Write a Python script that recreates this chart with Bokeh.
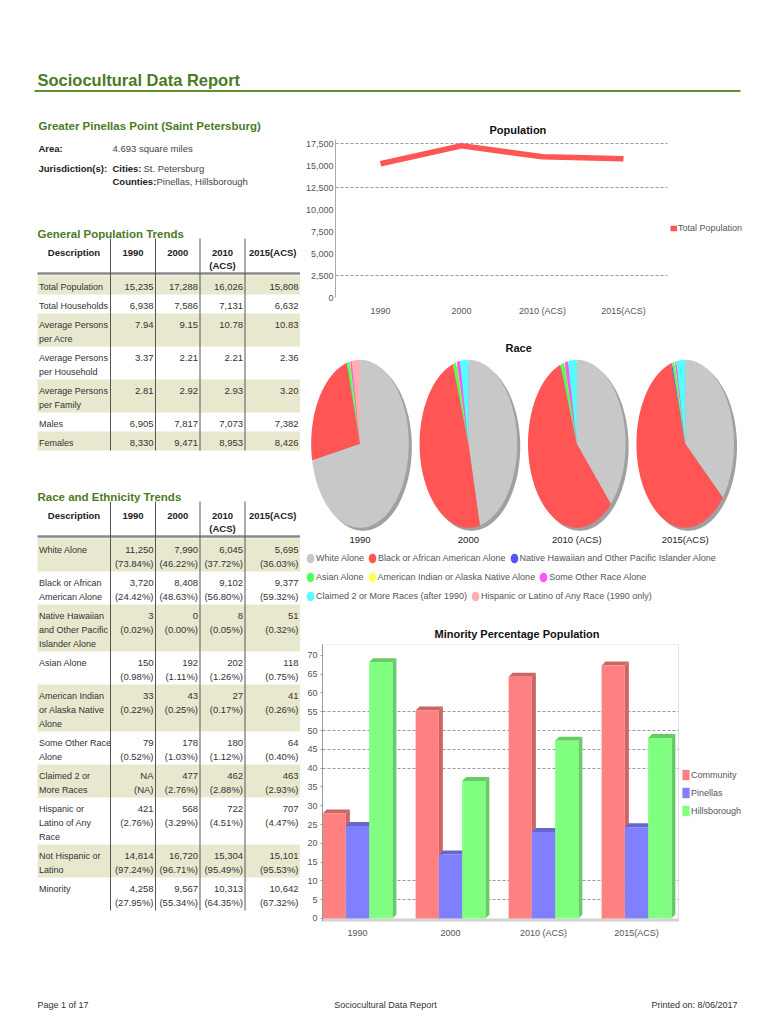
import math
from bokeh.plotting import figure
from bokeh.models import (Range1d, ColumnDataSource, Legend, LegendItem,
                          FixedTicker, NumeralTickFormatter, BoxAnnotation)
from bokeh.layouts import column, row
from bokeh.core.properties import value
from bokeh.embed import file_html
from bokeh.resources import INLINE

# ------------------------------------------------------------------ data
report_title = "Sociocultural Data Report"
community_name = "Greater Pinellas Point (Saint Petersburg)"
area_text = "4.693 square miles"
cities_text = "St. Petersburg"
counties_text = "Pinellas, Hillsborough"
page_text = "Page 1 of 17"
printed_text = "Printed on: 8/06/2017"

years = ["1990", "2000", "2010 (ACS)", "2015(ACS)"]
table_headers = ["Description", "1990", "2000", "2010\n(ACS)", "2015(ACS)"]

total_population = [15235, 17288, 16026, 15808]
total_households = [6938, 7586, 7131, 6632]
persons_per_acre = [7.94, 9.15, 10.78, 10.83]
persons_per_household = [3.37, 2.21, 2.21, 2.36]
persons_per_family = [2.81, 2.92, 2.93, 3.20]
males = [6905, 7817, 7073, 7382]
females = [8330, 9471, 8953, 8426]

general_desc = ["Total Population", "Total Households", "Average Persons\nper Acre",
                "Average Persons\nper Household", "Average Persons\nper Family",
                "Males", "Females"]

white_alone = [11250, 7990, 6045, 5695]
white_pct = [73.84, 46.22, 37.72, 36.03]
black_alone = [3720, 8408, 9102, 9377]
black_pct = [24.42, 48.63, 56.80, 59.32]
hawaiian_alone = [3, 0, 8, 51]
hawaiian_pct = [0.02, 0.00, 0.05, 0.32]
asian_alone = [150, 192, 202, 118]
asian_pct = [0.98, 1.11, 1.26, 0.75]
indian_alone = [33, 43, 27, 41]
indian_pct = [0.22, 0.25, 0.17, 0.26]
other_alone = [79, 178, 180, 64]
other_pct = [0.52, 1.03, 1.12, 0.40]
two_or_more = [None, 477, 462, 463]
two_or_more_pct = [None, 2.76, 2.88, 2.93]
hispanic = [421, 568, 722, 707]
hispanic_pct = [2.76, 3.29, 4.51, 4.47]
not_hispanic = [14814, 16720, 15304, 15101]
not_hispanic_pct = [97.24, 96.71, 95.49, 95.53]
minority = [4258, 9567, 10313, 10642]
minority_pct = [27.95, 55.34, 64.35, 67.32]

race_desc = ["White Alone", "Black or African\nAmerican Alone",
             "Native Hawaiian\nand Other Pacific\nIslander Alone", "Asian Alone",
             "American Indian\nor Alaska Native\nAlone", "Some Other Race\nAlone",
             "Claimed 2 or\nMore Races", "Hispanic or\nLatino of Any\nRace",
             "Not Hispanic or\nLatino", "Minority"]

pie_labels = ["White Alone", "Black or African American Alone",
              "Native Hawaiian and Other Pacific Islander Alone", "Asian Alone",
              "American Indian or Alaska Native Alone", "Some Other Race Alone",
              "Claimed 2 or More Races (after 1990)",
              "Hispanic or Latino of Any Race (1990 only)"]
pie_colors = ["#c8c8c8", "#ff5555", "#5555ff", "#55ff55", "#ffff55", "#ff55ff",
              "#55ffff", "#ffafaf"]

pop_ticks = [0, 2500, 5000, 7500, 10000, 12500, 15000, 17500]
pop_grid_ticks = [2500, 12500, 17500]

minority_series = ["Community", "Pinellas", "Hillsborough"]
community_minority_pct = minority_pct
pinellas_minority_pct = [24.6, 17.0, 23.0, 24.3]
hillsborough_minority_pct = [68.2, 36.6, 47.3, 48.0]
minority_ticks = [0, 5, 10, 15, 20, 25, 30, 35, 40, 45, 50, 55, 60, 65, 70]
minority_grid_ticks = [5, 10, 40, 45, 50, 55]

# ------------------------------------------------------------------ styles
SANS = "Liberation Sans"
GREEN = "#4b7b1f"
BAND = "#e8e8cf"
TXT = "#333333"
GREY_TXT = "#555555"


def add_text(p, xs, ys, texts, size="9.5px", color=TXT, bold=False, align="left",
             baseline="middle", font=SANS):
    src = ColumnDataSource(dict(x=list(xs), y=list(ys), t=list(texts)))
    p.text(x="x", y="y", text="t", source=src, text_font=value(font),
           text_font_size=size, text_color=color,
           text_font_style="bold" if bold else "normal",
           text_align=align, text_baseline=baseline)


def canvas(w, h, x0, x1, y_top, y_bot):
    p = figure(width=w, height=h, x_range=Range1d(x0, x1), y_range=Range1d(y_bot, y_top),
               output_backend="svg", toolbar_location=None, x_axis_type=None,
               y_axis_type=None, min_border=0, frame_align=False)
    p.outline_line_color = None
    p.background_fill_color = "white"
    p.border_fill_color = "white"
    return p


def fmt_int(vals):
    return [[f"{v:,}"] for v in vals]


def fmt_dec(vals):
    return [[f"{v:.2f}"] for v in vals]


def fmt_pair(counts, pcts):
    out = []
    for c, q in zip(counts, pcts):
        if c is None:
            out.append(["NA", "(NA)"])
        else:
            out.append([f"{c:,}", f"({q:.2f}%)"])
    return out


COL_EDGES = [37, 110, 155, 199.5, 244.5, 300]
LINE_H = 14


def draw_table(p, heading, heading_y, descs, cells):
    header_y = heading_y + 18.5
    sep_y = header_y + 21
    top = sep_y + 2
    tops, bottoms = [], []
    dx_, dy_, dt = [], [], []
    vx, vy, vt = [], [], []
    for i, (d, row_cells) in enumerate(zip(descs, cells)):
        dl = d.split("\n")
        n = max(len(dl), max(len(c) for c in row_cells))
        h = LINE_H * n + 5
        if i % 2 == 0:
            tops.append(top)
            bottoms.append(top + h)
        for k, line in enumerate(dl):
            dx_.append(38.5)
            dy_.append(top + 11 + k * LINE_H)
            dt.append(line)
        for j, c in enumerate(row_cells):
            for k, line in enumerate(c):
                vx.append(COL_EDGES[j + 2] - 2)
                vy.append(top + 11 + k * LINE_H)
                vt.append(line)
        top += h
    p.quad(left=COL_EDGES[0], right=COL_EDGES[-1], top=tops, bottom=bottoms,
           fill_color=BAND, line_color=None)
    p.segment(x0=[COL_EDGES[0]], x1=[COL_EDGES[-1]], y0=[sep_y], y1=[sep_y],
              line_color="#8a8a8a", line_width=2.5)
    p.segment(x0=COL_EDGES[1:5], x1=COL_EDGES[1:5], y0=[header_y - 14] * 4,
              y1=[top] * 4, line_color="#555555", line_width=1)
    add_text(p, [37], [heading_y], [heading], size="11.5px", color=GREEN, bold=True)
    hx, hy, ht = [], [], []
    for j, h in enumerate(table_headers):
        cx = (COL_EDGES[j] + COL_EDGES[j + 1]) / 2
        for k, line in enumerate(h.split("\n")):
            hx.append(cx)
            hy.append(header_y + k * 13)
            ht.append(line)
    add_text(p, hx, hy, ht, bold=True, color="#222222", align="center")
    add_text(p, dx_, dy_, dt, size="9px")
    add_text(p, vx, vy, vt, align="right")


# ------------------------------------------------------------------ header
header = canvas(762, 112, 0, 762, 0, 112)
add_text(header, [37], [79.5], [report_title], size="16.5px", color=GREEN, bold=True)
header.segment(x0=[34], x1=[740], y0=[90.5], y1=[90.5], line_color="#5f8f2f",
               line_width=2)

# ------------------------------------------------------------------ left column
left = canvas(300, 833, 0, 300, 112, 945)
add_text(left, [38], [125.5], [community_name], size="11.5px", color=GREEN, bold=True)
add_text(left, [38, 38, 112, 112], [148, 167.5, 167.5, 181],
         ["Area:", "Jurisdiction(s):", "Cities:", "Counties:"], color="#222222", bold=True)
add_text(left, [112, 143, 156], [148, 167.5, 181],
         [area_text, cities_text, counties_text], color="#444444")

general_cells = [fmt_int(total_population), fmt_int(total_households),
                 fmt_dec(persons_per_acre), fmt_dec(persons_per_household),
                 fmt_dec(persons_per_family), fmt_int(males), fmt_int(females)]
draw_table(left, "General Population Trends", 233.5, general_desc, general_cells)

race_cells = [fmt_pair(white_alone, white_pct), fmt_pair(black_alone, black_pct),
              fmt_pair(hawaiian_alone, hawaiian_pct), fmt_pair(asian_alone, asian_pct),
              fmt_pair(indian_alone, indian_pct), fmt_pair(other_alone, other_pct),
              fmt_pair(two_or_more, two_or_more_pct), fmt_pair(hispanic, hispanic_pct),
              fmt_pair(not_hispanic, not_hispanic_pct), fmt_pair(minority, minority_pct)]
draw_table(left, "Race and Ethnicity Trends", 496.5, race_desc, race_cells)


def style_title(p, offset, standoff):
    p.title.align = "left"
    p.title.offset = offset
    p.title.standoff = standoff
    p.title.text_font = SANS
    p.title.text_font_size = "11px"
    p.title.text_font_style = "bold"
    p.title.text_color = "#111111"


# ------------------------------------------------------------------ population line chart
# frame: page x 335..762, y 139..297 ; category i centred at page x 380 + 81*i
px_per_cat = 81.0
pop_x0 = (335 - 380) / px_per_cat
pop_x1 = pop_x0 + (762 - 335) / px_per_cat
pop_xcut = (667 - 380) / px_per_cat
pop = figure(width=462, height=214, title="Population",
             x_range=Range1d(pop_x0, pop_x1), y_range=Range1d(0, 18000),
             output_backend="svg", toolbar_location=None, frame_align=False,
             min_border_left=35, min_border_right=0, min_border_top=27,
             min_border_bottom=29)
pop.outline_line_color = None
style_title(pop, 154, 8)
pop.yaxis.ticker = FixedTicker(ticks=pop_ticks)
pop.yaxis.formatter = NumeralTickFormatter(format="0,0")
pop.yaxis.major_tick_line_color = None
pop.yaxis.major_tick_out = 0
pop.yaxis.major_tick_in = 0
pop.yaxis.minor_tick_line_color = None
pop.yaxis.axis_line_color = "#aaaaaa"
pop.yaxis.major_label_standoff = 2
pop.xaxis.ticker = FixedTicker(ticks=list(range(len(years))))
pop.xaxis.major_label_overrides = {i: y for i, y in enumerate(years)}
pop.xaxis.axis_line_color = None
pop.xaxis.major_tick_line_color = None
pop.xaxis.major_tick_out = 0
pop.xaxis.major_tick_in = 0
pop.xaxis.minor_tick_line_color = None
pop.xaxis.major_label_standoff = 8
for ax in (pop.xaxis, pop.yaxis):
    ax.major_label_text_font = SANS
    ax.major_label_text_font_size = "9px"
    ax.major_label_text_color = GREY_TXT
pop.xgrid.visible = False
pop.ygrid.ticker = FixedTicker(ticks=pop_grid_ticks)
pop.ygrid.grid_line_color = "#999999"
pop.ygrid.grid_line_dash = "3 2"
pop.add_layout(BoxAnnotation(left=pop_xcut, fill_color="white", fill_alpha=1,
                             line_color=None, level="underlay"))
pop_line = pop.line(x=list(range(len(years))), y=total_population, line_color="#ff5555",
                    line_width=5.5)
pop_leg = Legend(items=[LegendItem(label="Total Population", renderers=[pop_line])],
                 location=(335, 63), padding=0, margin=0, border_line_color=None,
                 background_fill_alpha=0, glyph_width=7, glyph_height=12,
                 label_height=12, label_standoff=1, label_text_font=SANS,
                 label_text_font_size="9px", label_text_color=GREY_TXT)
pop.add_layout(pop_leg)

# ------------------------------------------------------------------ race pies
race = figure(width=462, height=290, title="Race", x_range=Range1d(300, 762),
              y_range=Range1d(616, 356), output_backend="svg", toolbar_location=None,
              x_axis_type=None, y_axis_type=None, min_border_left=0, min_border_right=0,
              min_border_top=30, min_border_bottom=0, frame_align=False)
race.outline_line_color = None
style_title(race, 205, 6)

pie_cx = [359.5 + 108.4 * i for i in range(len(years))]
pie_cy = 443.3
pie_rx, pie_ry = 48.8, 84.0


def ell_pt(cx, a, dx=0.0, dy=0.0):
    return cx + dx + pie_rx * math.sin(a), pie_cy + dy - pie_ry * math.cos(a)


# legend markers (tall ellipses), hidden under the pies
legend_refs = [race.ellipse(x=[pie_cx[0]], y=[pie_cy], width=0.8, height=1.0,
                            fill_color=col, line_color=None) for col in pie_colors]

sh_xs, sh_ys = [], []
for cx in pie_cx:
    pts = [ell_pt(cx, 2 * math.pi * s / 180, 3, 3) for s in range(181)]
    sh_xs.append([q[0] for q in pts])
    sh_ys.append([q[1] for q in pts])
race.patches(sh_xs, sh_ys, fill_color="#a0a0a0", line_color=None)

pie_series = [white_alone, black_alone, hawaiian_alone, asian_alone, indian_alone,
              other_alone, [v or 0 for v in two_or_more],
              [v if i == 0 else 0 for i, v in enumerate(hispanic)]]
slice_xs = [[] for _ in pie_series]
slice_ys = [[] for _ in pie_series]
for i, cx in enumerate(pie_cx):
    vals = [s[i] for s in pie_series]
    tot = float(sum(vals))
    a = 0.0
    for k, v in enumerate(vals):
        a0, a1 = a, a + 2 * math.pi * v / tot
        a = a1
        if v <= 0:
            continue
        n = max(2, int(math.degrees(a1 - a0)) + 2)
        pts = [(cx, pie_cy)] + [ell_pt(cx, a0 + (a1 - a0) * s / (n - 1)) for s in range(n)]
        slice_xs[k].append([q[0] for q in pts])
        slice_ys[k].append([q[1] for q in pts])
for k, col in enumerate(pie_colors):
    if slice_xs[k]:
        race.patches(slice_xs[k], slice_ys[k], fill_color=col, line_color=None)
add_text(race, pie_cx, [539.3] * len(pie_cx), years, align="center", color="#222222")

legend_rows = [[0, 1, 2], [3, 4, 5], [6, 7]]
legend_row_bottoms = [51, 32, 13]
for idxs, yb in zip(legend_rows, legend_row_bottoms):
    leg = Legend(items=[LegendItem(label=pie_labels[k], renderers=[legend_refs[k]])
                        for k in idxs],
                 orientation="horizontal", location=(4, yb), padding=0, margin=0,
                 border_line_color=None, background_fill_alpha=0, glyph_width=12,
                 glyph_height=14, label_height=14, label_standoff=0, spacing=2,
                 label_text_font=SANS, label_text_font_size="9px",
                 label_text_color=GREY_TXT)
    race.add_layout(leg)

# ------------------------------------------------------------------ minority bars
# frame: page x 322..762, y 644..921 ; group i centred at page x 357 + 93*i
px_per_grp = 93.0
mx0 = (322 - 357) / px_per_grp
mx1 = mx0 + (762 - 322) / px_per_grp
mxcut = (678 - 357) / px_per_grp
my0, my1 = -0.8, 72.9
mino = figure(width=462, height=329, title="Minority Percentage Population",
              x_range=Range1d(mx0, mx1), y_range=Range1d(my0, my1),
              output_backend="svg", toolbar_location=None, min_border_left=22,
              min_border_right=0, min_border_top=28, min_border_bottom=24,
              frame_align=False)
mino.outline_line_color = None
style_title(mino, 112, 9)
mino.yaxis.ticker = FixedTicker(ticks=minority_ticks)
mino.yaxis.major_tick_in = 0
mino.yaxis.major_tick_out = 2
mino.yaxis.major_tick_line_color = "#999999"
mino.yaxis.minor_tick_line_color = None
mino.yaxis.axis_line_color = "#999999"
mino.yaxis.major_label_standoff = 3
mino.xaxis.ticker = FixedTicker(ticks=list(range(len(years))))
mino.xaxis.major_label_overrides = {i: y for i, y in enumerate(years)}
mino.xaxis.axis_line_color = None
mino.xaxis.major_tick_line_color = None
mino.xaxis.major_tick_out = 0
mino.xaxis.major_tick_in = 0
mino.xaxis.minor_tick_line_color = None
mino.xaxis.major_label_standoff = 6
for ax in (mino.xaxis, mino.yaxis):
    ax.major_label_text_font = SANS
    ax.major_label_text_font_size = "9px"
    ax.major_label_text_color = GREY_TXT
mino.xgrid.visible = False
mino.ygrid.ticker = FixedTicker(ticks=minority_grid_ticks)
mino.ygrid.grid_line_color = "#999999"
mino.ygrid.grid_line_dash = "3 2"
mino.add_layout(BoxAnnotation(left=mxcut, fill_color="white", fill_alpha=1,
                              line_color=None, level="underlay"))
mino.add_layout(BoxAnnotation(top=0, right=mxcut, fill_color="#d4d4d4", fill_alpha=1,
                              line_color=None, level="underlay"))
mino.add_layout(BoxAnnotation(right=mxcut, fill_alpha=0, line_color="#999999",
                              line_width=1))

frame_w = 762 - 322
frame_h = 329 - 28 - 24
dxu = 4 * (mx1 - mx0) / frame_w
dyu = 4 * (my1 - my0) / frame_h
bar_w = 0.25
series_vals = [community_minority_pct, pinellas_minority_pct, hillsborough_minority_pct]
front_cols = ["#ff8080", "#8080ff", "#80ff80"]
side_cols = ["#cc6666", "#6666cc", "#66cc66"]
bar_items = []
for k, (name, vals) in enumerate(zip(minority_series, series_vals)):
    xc = [i + (k - 1) * bar_w for i in range(len(years))]
    pxs, pys = [], []
    for x, v in zip(xc, vals):
        xl, xr = x - bar_w / 2, x + bar_w / 2
        pxs.append([xr, xr + dxu, xr + dxu, xr])
        pys.append([0, dyu, v + dyu, v])
        pxs.append([xl, xl + dxu, xr + dxu, xr])
        pys.append([v, v + dyu, v + dyu, v])
    mino.patches(pxs, pys, fill_color=side_cols[k], line_color=None)
    r = mino.vbar(x=xc, top=vals, bottom=0, width=bar_w, fill_color=front_cols[k],
                  line_color=None)
    bar_items.append(LegendItem(label=name, renderers=[r]))
mino_leg = Legend(items=bar_items, location=(359, 104), padding=0, margin=0,
                  border_line_color=None, background_fill_alpha=0, glyph_width=9,
                  glyph_height=13, label_height=13, spacing=5, label_standoff=1,
                  label_text_font=SANS, label_text_font_size="9px",
                  label_text_color=GREY_TXT)
mino.add_layout(mino_leg)

# ------------------------------------------------------------------ footer
footer = canvas(762, 71, 0, 762, 945, 1016)
add_text(footer, [37], [1004], [page_text], size="9px", align="left")
add_text(footer, [385], [1004], [report_title], size="9px", align="center")
add_text(footer, [737], [1004], [printed_text], size="9px", align="right")

layout = column(header, row(left, column(pop, race, mino)), footer)
open("out.html", "w").write(file_html(layout, INLINE))
